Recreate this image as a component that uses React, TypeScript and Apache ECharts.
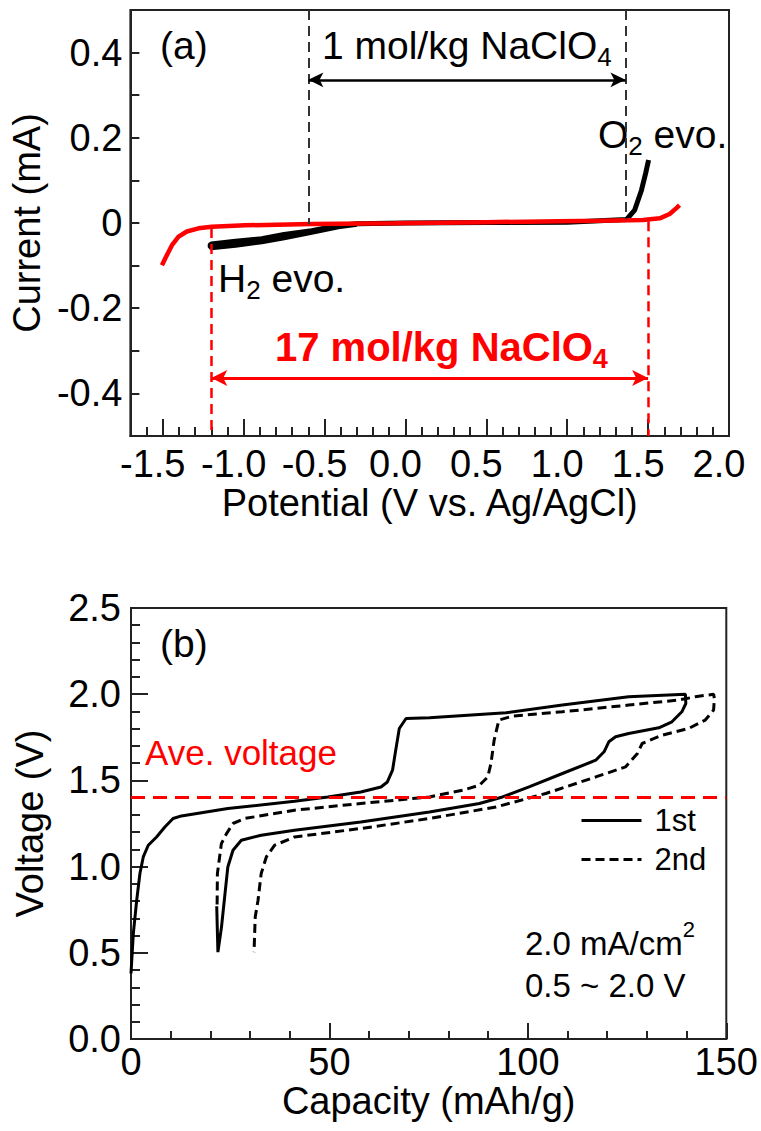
import React, { useEffect, useRef } from "react";
import * as echarts from "echarts";

const FONT = "'Liberation Sans', Arial, Helvetica, sans-serif";
const AXIS_COLOR = "#222";

// ---------- Panel (a): potential window ----------
const potentialTicks = [-1.5, -1.0, -0.5, 0.0, 0.5, 1.0, 1.5, 2.0];
const potentialMinorTicks = [-1.6, -1.4, -1.3, -1.2, -1.1, -0.9, -0.8, -0.7, -0.6, -0.4, -0.3, -0.2, -0.1, 0.1, 0.2, 0.3, 0.4, 0.6, 0.7, 0.8, 0.9, 1.1, 1.2, 1.3, 1.4, 1.6, 1.7, 1.8, 1.9];
const currentTicks = [-0.4, -0.2, 0, 0.2, 0.4];
const CURRENT_MIN = -0.5;
const CURRENT_MAX = 0.5;

// 1 mol/kg NaClO4 (black)
const dilutePotential = [1.503, 1.485, 1.459, 1.417, 1.366, 1.0, 0.5, 0.0, -0.3, -0.415, -0.58, -0.75, -0.888, -1.05, -1.2, -1.21, -1.2, -1.05, -0.888, -0.75, -0.58, -0.415, -0.3];
const diluteCurrent = [0.148, 0.117, 0.077, 0.0305, 0.008, 0.002, 0.001, 0.0, -0.002, -0.006, -0.018, -0.027, -0.037, -0.043, -0.049, -0.053, -0.058, -0.052, -0.044, -0.035, -0.022, -0.009, -0.003];

// 17 mol/kg NaClO4 (red)
const concPotential = [-1.505, -1.474, -1.443, -1.402, -1.351, -1.279, -1.197, -0.991, -0.58, -0.065, 0.5, 0.955, 1.2, 1.469, 1.572, 1.633, 1.675, 1.694];
const concCurrent = [-0.099, -0.075, -0.052, -0.032, -0.02, -0.0125, -0.0087, -0.0055, -0.0023, -0.0008, 0.002, 0.004, 0.005, 0.007, 0.011, 0.021, 0.035, 0.042];

const diluteWindow = [-0.6, 1.36];
const diluteWindowFoot = [-0.003, 0.008];
const concWindow = [-1.2, 1.5];
const concWindowFoot = [-0.012, 0.004];
const diluteArrowLevel = 0.336;
const concArrowLevel = -0.364;

// ---------- Panel (b): charge / discharge ----------
const cap1st = [0, 0.58, 1.41, 2.25, 3.09, 4.35, 6.44, 8.53, 10.6, 12.7, 24.4, 41.2, 49.6, 57.9, 63.0, 64.6, 65.9, 66.7, 67.6, 69.3, 75.2, 94.5, 108.7, 125.4, 139.7, 139.8, 138.8, 136.3, 133.0, 125.4, 122.1, 120.4, 119.2, 117.1, 108.7, 100.3, 93.6, 87.8, 75.2, 57.9, 41.2, 32.8, 27.8, 25.7, 24.4, 23.6, 22.8, 21.9, 21.6];
const volt1st = [0.38, 0.61, 0.8, 0.96, 1.056, 1.124, 1.172, 1.23, 1.279, 1.294, 1.337, 1.379, 1.404, 1.433, 1.462, 1.491, 1.559, 1.675, 1.801, 1.859, 1.863, 1.892, 1.937, 1.985, 2.0, 1.946, 1.898, 1.84, 1.805, 1.772, 1.753, 1.724, 1.666, 1.617, 1.54, 1.462, 1.404, 1.366, 1.317, 1.259, 1.211, 1.182, 1.153, 1.095, 0.998, 0.824, 0.649, 0.504, 0.77];

const cap2nd = [21.7, 21.77, 22.77, 24.03, 25.7, 28.6, 41.2, 57.9, 75.2, 83.6, 87.8, 89.9, 90.7, 91.5, 92.7, 96.1, 108.7, 125.4, 138.0, 142.2, 146.8, 147.0, 146.8, 144.7, 140.5, 133.8, 128.8, 127.6, 124.6, 117.1, 104.5, 92.0, 75.2, 57.9, 41.2, 36.2, 34.1, 32.8, 32.0, 31.3, 31.1, 31.0];
const volt2nd = [0.78, 0.959, 1.133, 1.19, 1.25, 1.279, 1.327, 1.366, 1.404, 1.443, 1.472, 1.52, 1.598, 1.733, 1.85, 1.873, 1.898, 1.937, 1.966, 1.985, 2.0, 1.975, 1.908, 1.85, 1.801, 1.762, 1.714, 1.656, 1.578, 1.52, 1.424, 1.346, 1.279, 1.221, 1.172, 1.124, 1.056, 0.959, 0.804, 0.707, 0.572, 0.504];

const aveVoltage = 1.4;

const zip = (xs: number[], ys: number[]) => xs.map((x, i) => [x, ys[i]]);

const GRID_A_HEIGHT = 426;
const MINOR_TICK_PX = 9;
const minorTickSpan = (MINOR_TICK_PX / GRID_A_HEIGHT) * (CURRENT_MAX - CURRENT_MIN);

const tickLine = { color: AXIS_COLOR, width: 2 };
const labelStyle = { fontSize: 38, color: "#000", fontFamily: FONT };
const nameStyle = { fontSize: 38, color: "#000", fontFamily: FONT };

function text(x: number, y: number, t: string, extra: any = {}) {
  return {
    type: "text",
    x,
    y,
    silent: true,
    style: {
      text: t,
      fontSize: 39,
      fontFamily: FONT,
      fill: "#000",
      align: "left",
      verticalAlign: "middle",
      lineHeight: 50,
      rich: {
        s: { fontSize: 26, verticalAlign: "bottom", lineHeight: 10 },
        p: { fontSize: 22, verticalAlign: "top", lineHeight: 34 },
      },
      ...extra,
    },
  };
}

const option: any = {
  animation: false,
  backgroundColor: "#fff",
  textStyle: { fontFamily: FONT },
  grid: [
    { left: 130, top: 10, width: 599, height: GRID_A_HEIGHT, show: true, borderColor: AXIS_COLOR, borderWidth: 2 },
    { left: 131, top: 608, width: 596, height: 431, show: true, borderColor: AXIS_COLOR, borderWidth: 2 },
  ],
  xAxis: [
    {
      gridIndex: 0,
      type: "value",
      min: -1.7,
      max: 2.0,
      axisLine: { show: true, onZero: false, lineStyle: tickLine },
      axisTick: { show: true, inside: true, length: 17, customValues: potentialTicks, lineStyle: tickLine },
      axisLabel: { customValues: potentialTicks, formatter: (v: number) => v.toFixed(1), margin: 9, padding: [0, 20, 0, 0], ...labelStyle },
      splitLine: { show: false },
      name: "Potential (V vs. Ag/AgCl)",
      nameLocation: "middle",
      nameGap: 48,
      nameTextStyle: nameStyle,
    },
    {
      gridIndex: 1,
      type: "value",
      min: 0,
      max: 150,
      interval: 50,
      axisLine: { show: true, onZero: false, lineStyle: tickLine },
      axisTick: { show: true, inside: true, length: 16, lineStyle: tickLine },
      minorTick: { show: true, splitNumber: 5, length: 8, lineStyle: tickLine },
      axisLabel: { margin: 4, ...labelStyle },
      splitLine: { show: false },
      minorSplitLine: { show: false },
      name: "Capacity (mAh/g)",
      nameLocation: "middle",
      nameGap: 42,
      nameTextStyle: nameStyle,
    },
  ],
  yAxis: [
    {
      gridIndex: 0,
      type: "value",
      min: CURRENT_MIN,
      max: CURRENT_MAX,
      interval: 0.1,
      axisLine: { show: true, onZero: false, lineStyle: tickLine },
      axisTick: { show: true, inside: true, length: 9, lineStyle: tickLine },
      axisLabel: { customValues: currentTicks, formatter: (v: number) => (Math.abs(v) < 1e-9 ? "0" : v.toFixed(1)), margin: 8, ...labelStyle },
      splitLine: { show: false },
      name: "Current (mA)",
      nameLocation: "middle",
      nameGap: 82,
      nameTextStyle: nameStyle,
    },
    {
      gridIndex: 1,
      type: "value",
      min: 0,
      max: 2.5,
      interval: 0.5,
      axisLine: { show: true, onZero: false, lineStyle: tickLine },
      axisTick: { show: true, inside: true, length: 17, lineStyle: tickLine },
      minorTick: { show: true, splitNumber: 5, length: 9, lineStyle: tickLine },
      axisLabel: { formatter: (v: number) => v.toFixed(1), margin: 10, ...labelStyle },
      splitLine: { show: false },
      minorSplitLine: { show: false },
      name: "Voltage (V)",
      nameLocation: "middle",
      nameGap: 82,
      nameTextStyle: nameStyle,
    },
  ],
  legend: {
    data: ["1st", "2nd"],
    orient: "vertical",
    left: 575,
    top: 800,
    itemWidth: 60,
    itemHeight: 14,
    itemGap: 8,
    selectedMode: false,
    itemStyle: { opacity: 0 },
    lineStyle: { width: 3 },
    textStyle: { fontSize: 31, color: "#000", fontFamily: FONT, padding: [0, 0, 0, 8] },
  },
  series: [
    {
      name: "1 mol/kg",
      type: "line",
      xAxisIndex: 0,
      yAxisIndex: 0,
      data: zip(dilutePotential, diluteCurrent),
      symbol: "none",
      lineStyle: { color: "#000", width: 5 },
      z: 2,
      silent: true,
      markLine: {
        silent: true,
        label: { show: false },
        symbol: "none",
        data: [
          ...diluteWindow.map((v, i) => [
            { coord: [v, CURRENT_MAX], symbol: "none", lineStyle: { color: "#333", width: 2, type: [10, 6] } },
            { coord: [v, diluteWindowFoot[i]], symbol: "none" },
          ]),
          [
            { coord: [diluteWindow[0], diluteArrowLevel], symbol: "arrow", symbolSize: [11, 15], lineStyle: { color: "#000", width: 2.5, type: "solid" } },
            { coord: [diluteWindow[1], diluteArrowLevel], symbol: "arrow", symbolSize: [11, 15] },
          ],
          // 0.1 V minor ticks on the potential axis
          ...potentialMinorTicks.map((v) => [
            { coord: [v, CURRENT_MIN], symbol: "none", lineStyle: { color: AXIS_COLOR, width: 2, type: "solid" } },
            { coord: [v, CURRENT_MIN + minorTickSpan], symbol: "none" },
          ]),
        ],
      },
    },
    {
      name: "17 mol/kg",
      type: "line",
      xAxisIndex: 0,
      yAxisIndex: 0,
      data: zip(concPotential, concCurrent),
      symbol: "none",
      lineStyle: { color: "#ff0000", width: 4.5 },
      z: 3,
      silent: true,
      markLine: {
        silent: true,
        label: { show: false },
        symbol: "none",
        data: [
          ...concWindow.map((v, i) => [
            { coord: [v, concWindowFoot[i]], symbol: "none", lineStyle: { color: "#ff0000", width: 2.5, type: [10, 6] } },
            { coord: [v, CURRENT_MIN], symbol: "none" },
          ]),
          [
            { coord: [concWindow[0], concArrowLevel], symbol: "arrow", symbolSize: [12, 16], lineStyle: { color: "#ff0000", width: 3, type: "solid" } },
            { coord: [concWindow[1], concArrowLevel], symbol: "arrow", symbolSize: [12, 16] },
          ],
        ],
      },
    },
    {
      name: "1st",
      type: "line",
      xAxisIndex: 1,
      yAxisIndex: 1,
      data: zip(cap1st, volt1st),
      symbol: "none",
      lineStyle: { color: "#000", width: 3 },
      itemStyle: { color: "#000" },
      silent: true,
      markLine: {
        silent: true,
        label: { show: false },
        symbol: "none",
        lineStyle: { color: "#ff0000", width: 3, type: [14, 8] },
        data: [{ yAxis: aveVoltage }],
      },
    },
    {
      name: "2nd",
      type: "line",
      xAxisIndex: 1,
      yAxisIndex: 1,
      data: zip(cap2nd, volt2nd),
      symbol: "none",
      lineStyle: { color: "#000", width: 3, type: [9, 5] },
      itemStyle: { color: "#000" },
      silent: true,
    },
  ],
  graphic: [
    text(160, 45, "(a)"),
    text(322, 45, "1 mol/kg NaClO{s|4}"),
    text(598, 134, "O{s|2} evo."),
    text(218, 278, "H{s|2} evo."),
    text(275, 347, "17 mol/kg NaClO{s|4}", { fill: "#ff0000", fontWeight: "bold", fontSize: 40, rich: { s: { fontSize: 27, fontWeight: "bold", verticalAlign: "bottom", lineHeight: 10 } } }),
    text(160, 643, "(b)"),
    text(145, 752, "Ave. voltage", { fill: "#ff0000", fontSize: 35 }),
    text(525, 943, "2.0 mA/cm{p|2}", { fontSize: 33 }),
    text(525, 985, "0.5 ~ 2.0 V", { fontSize: 33 }),
  ],
};

export default function App() {
  const ref = useRef<HTMLDivElement>(null);
  useEffect(() => {
    if (!ref.current) return;
    const chart = echarts.init(ref.current, null, { renderer: "svg" });
    chart.setOption(option);
    return () => chart.dispose();
  }, []);
  return (
    <div
      ref={ref}
      style={{ position: "fixed", left: 0, top: 0, width: 761, height: 1131, background: "#fff" }}
    />
  );
}
